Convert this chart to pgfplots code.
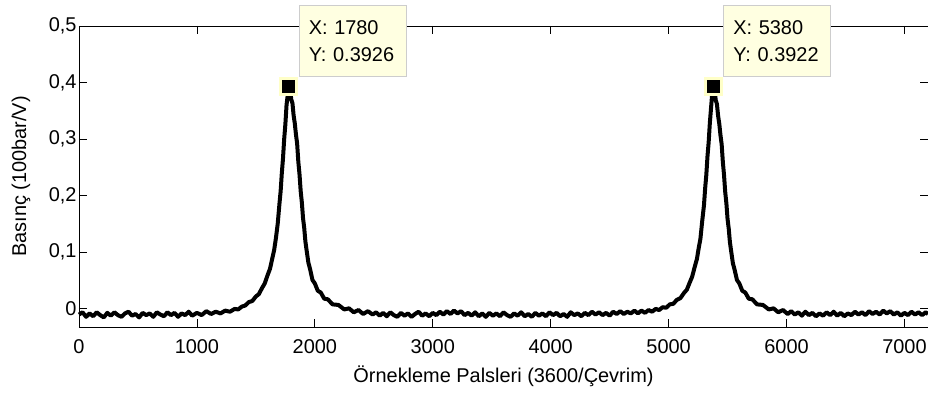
\documentclass[border=0pt]{standalone}
\usepackage{pgfplots}
\pgfplotsset{compat=1.18}
\usepackage{fontspec}
\setmainfont{Liberation Sans}
\definecolor{tipfill}{RGB}{255,255,225}
\definecolor{tipborder}{RGB}{205,205,205}
\definecolor{tiphalo}{RGB}{255,255,200}
\newcommand{\lblfont}{\fontsize{20}{24}\selectfont}
\begin{document}
\begin{tikzpicture}
\begin{axis}[
  scale only axis,
  width=849bp, height=301bp,
  xmin=0, xmax=7200, ymin=-0.032, ymax=0.5,
  xtick={0,1000,2000,3000,4000,5000,6000,7000},
  xticklabels={0,1000,2000,3000,4000,5000,6000,7000},
  ytick={0,0.1,0.2,0.3,0.4,0.5},
  yticklabels={0,{0,1},{0,2},{0,3},{0,4},{0,5}},
  xtick pos=both, ytick pos=both,
  tick align=inside,
  major tick length=8bp,
  tick style={black, line width=0.8bp},
  axis line style={black, line width=0.8bp},
  tick label style={font=\lblfont, black},
  xticklabel style={yshift=-9bp},
  yticklabel style={xshift=1bp},
  clip=false,
]
\addplot[black, line width=4bp, line join=round] coordinates {
(0,-0.010) (30,-0.006) (60,-0.014) (90,-0.008) (120,-0.013) (150,-0.006)
(180,-0.011) (210,-0.015) (240,-0.007) (270,-0.012) (300,-0.006) (330,-0.011)
(360,-0.014) (390,-0.008) (420,-0.005) (450,-0.012) (480,-0.009) (510,-0.015)
(540,-0.007) (570,-0.011) (600,-0.008) (630,-0.014) (660,-0.006) (690,-0.010)
(720,-0.013) (750,-0.006) (780,-0.011) (810,-0.007) (840,-0.014) (870,-0.008)
(900,-0.011) (930,-0.005) (960,-0.012) (1000,-0.007) (1040,-0.011) (1080,-0.004)
(1120,-0.009) (1160,-0.005) (1200,-0.008) (1240,-0.003) (1280,-0.005) (1320,0.000)
(1350,-0.001) (1380,0.004) (1410,0.006) (1440,0.012) (1470,0.014) (1500,0.022)
(1525,0.026) (1550,0.036) (1575,0.045) (1600,0.060) (1620,0.071) (1640,0.090)
(1655,0.104) (1670,0.125) (1685,0.150) (1700,0.186) (1710,0.208) (1720,0.240)
(1730,0.266) (1740,0.300) (1750,0.326) (1760,0.360) (1770,0.378) (1780,0.3926)
(1790,0.388) (1800,0.370) (1810,0.364) (1820,0.342) (1830,0.328) (1840,0.308)
(1850,0.292) (1860,0.260) (1870,0.238) (1880,0.208) (1890,0.188) (1900,0.160)
(1910,0.143) (1920,0.119) (1930,0.104) (1945,0.082) (1960,0.070) (1980,0.051)
(2000,0.045) (2025,0.032) (2050,0.029) (2080,0.018) (2110,0.017) (2150,0.008)
(2200,0.007) (2250,-0.001) (2290,0.001) (2330,-0.006) (2370,-0.002) (2410,-0.009)
(2450,-0.004) (2490,-0.010) (2520,-0.006) (2550,-0.012) (2580,-0.007) (2610,-0.013)
(2640,-0.006) (2670,-0.011) (2700,-0.014) (2730,-0.007) (2760,-0.012) (2790,-0.008)
(2820,-0.014) (2850,-0.009) (2880,-0.005) (2910,-0.012) (2940,-0.008) (2970,-0.013)
(3000,-0.007) (3030,-0.011) (3060,-0.005) (3090,-0.010) (3120,-0.004) (3150,-0.009)
(3180,-0.003) (3210,-0.008) (3240,-0.004) (3270,-0.011) (3300,-0.007) (3330,-0.012)
(3360,-0.006) (3390,-0.013) (3420,-0.008) (3450,-0.014) (3480,-0.007) (3510,-0.012)
(3540,-0.008) (3570,-0.013) (3600,-0.006) (3630,-0.011) (3660,-0.014) (3690,-0.008)
(3720,-0.012) (3750,-0.006) (3780,-0.013) (3810,-0.009) (3840,-0.014) (3870,-0.007)
(3900,-0.012) (3930,-0.008) (3960,-0.013) (3990,-0.006) (4020,-0.011) (4050,-0.007)
(4080,-0.013) (4110,-0.009) (4140,-0.014) (4170,-0.006) (4200,-0.011) (4230,-0.008)
(4260,-0.013) (4290,-0.007) (4320,-0.011) (4350,-0.005) (4380,-0.010) (4410,-0.006)
(4440,-0.011) (4470,-0.007) (4500,-0.012) (4530,-0.005) (4560,-0.009) (4590,-0.004)
(4620,-0.009) (4650,-0.005) (4680,-0.008) (4710,-0.003) (4740,-0.008) (4770,-0.003)
(4800,-0.007) (4830,-0.002) (4860,-0.005) (4890,0.000) (4920,-0.002) (4950,0.003)
(4980,0.002) (5010,0.008) (5040,0.009) (5070,0.016) (5100,0.019) (5130,0.028)
(5155,0.034) (5180,0.047) (5200,0.057) (5220,0.073) (5240,0.088) (5255,0.107)
(5270,0.124) (5285,0.155) (5300,0.183) (5310,0.213) (5320,0.237) (5330,0.270)
(5340,0.295) (5350,0.329) (5360,0.355) (5370,0.381) (5380,0.3922) (5390,0.387)
(5400,0.369) (5410,0.362) (5420,0.341) (5430,0.327) (5440,0.307) (5450,0.291)
(5460,0.260) (5470,0.237) (5480,0.207) (5490,0.187) (5500,0.159) (5510,0.142)
(5520,0.118) (5530,0.103) (5545,0.081) (5560,0.069) (5580,0.051) (5600,0.045)
(5625,0.032) (5650,0.029) (5680,0.018) (5710,0.017) (5750,0.008) (5800,0.007)
(5850,-0.001) (5890,0.001) (5930,-0.006) (5970,-0.002) (6010,-0.009) (6040,-0.004)
(6070,-0.010) (6100,-0.006) (6130,-0.012) (6160,-0.005) (6190,-0.011) (6220,-0.007)
(6250,-0.013) (6280,-0.008) (6310,-0.012) (6340,-0.006) (6370,-0.011) (6400,-0.005)
(6430,-0.012) (6460,-0.007) (6490,-0.013) (6520,-0.008) (6550,-0.011) (6580,-0.005)
(6610,-0.010) (6640,-0.006) (6670,-0.011) (6700,-0.004) (6730,-0.009) (6760,-0.005)
(6790,-0.010) (6820,-0.003) (6850,-0.008) (6880,-0.004) (6910,-0.010) (6940,-0.006)
(6970,-0.012) (7000,-0.007) (7030,-0.011) (7060,-0.005) (7090,-0.010) (7120,-0.006)
(7150,-0.011) (7180,-0.006) (7200,-0.009)
};
\addplot[only marks, mark=square*, mark size=8bp,
  mark options={fill=black, draw=tiphalo, line width=3bp}]
  coordinates {(1780,0.3926) (5380,0.3922)};
\node[anchor=south west, fill=tipfill, draw=tipborder, line width=0.8bp,
  text width=88bp, inner xsep=9.5bp, minimum height=71bp, align=left,
  font=\fontsize{20}{27}\selectfont, xshift=10bp, yshift=10bp]
  at (axis cs:1780,0.3926) {X: 1780\\Y: 0.3926};
\node[anchor=south west, fill=tipfill, draw=tipborder, line width=0.8bp,
  text width=88bp, inner xsep=9.5bp, minimum height=71bp, align=left,
  font=\fontsize{20}{27}\selectfont, xshift=10bp, yshift=10bp]
  at (axis cs:5380,0.3922) {X: 5380\\Y: 0.3922};
\end{axis}
\node[font=\lblfont] at ([yshift=-49bp]current axis.south) {Örnekleme Palsleri (3600/Çevrim)};
\node[font=\lblfont, rotate=90] at ([xshift=-58bp]current axis.west) {Basınç (100bar/V)};
\pgfresetboundingbox
\path[use as bounding box] ([xshift=-79bp,yshift=-65bp]current axis.south west) rectangle ([yshift=26bp]current axis.north east);
\end{tikzpicture}
\end{document}
